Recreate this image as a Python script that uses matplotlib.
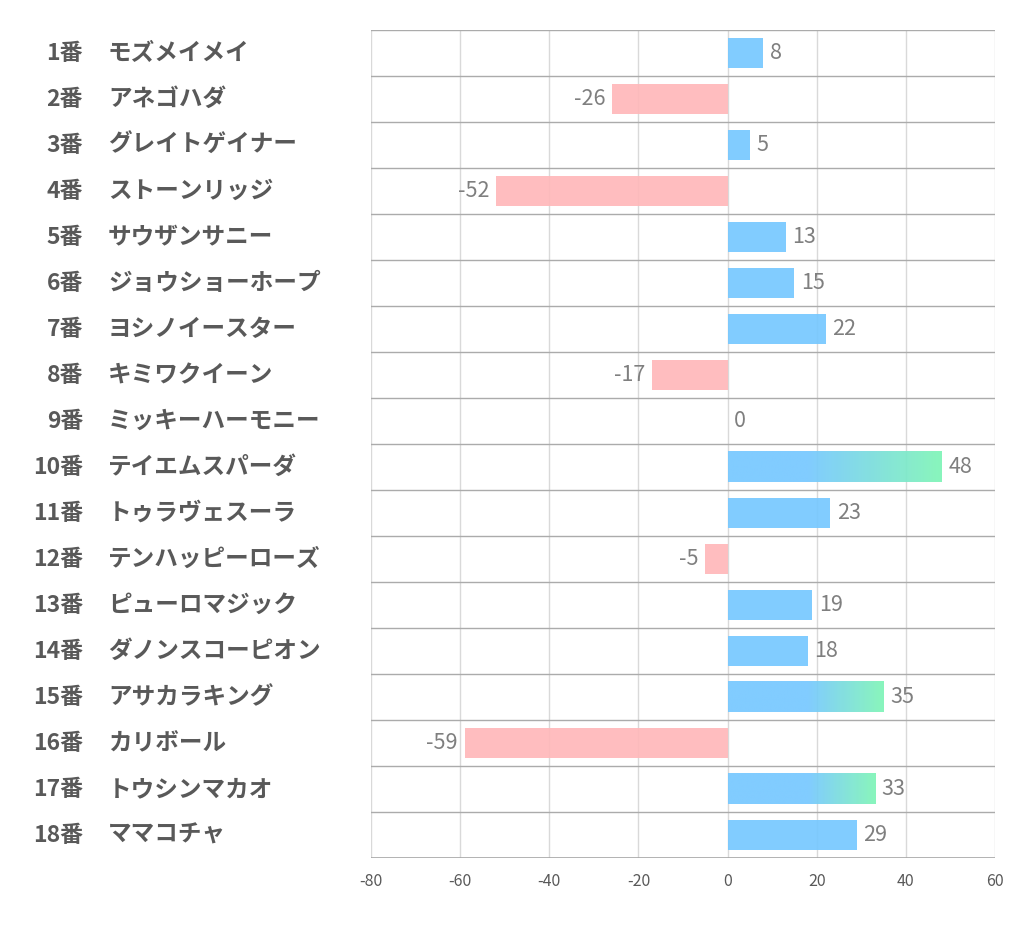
import matplotlib
matplotlib.use("Agg")
import matplotlib.pyplot as plt
import matplotlib.transforms as mtransforms
from matplotlib.colors import LinearSegmentedColormap
import numpy as np

plt.rcParams['font.family'] = ['Noto Sans CJK JP', 'DejaVu Sans']

numbers = [f"{i}番" for i in range(1, 19)]
names = ["モズメイメイ", "アネゴハダ", "グレイトゲイナー", "ストーンリッジ", "サウザンサニー",
         "ジョウショーホープ", "ヨシノイースター", "キミワクイーン", "ミッキーハーモニー",
         "テイエムスパーダ", "トゥラヴェスーラ", "テンハッピーローズ", "ピューロマジック",
         "ダノンスコーピオン", "アサカラキング", "カリボール", "トウシンマカオ", "ママコチャ"]
values = [8, -26, 5, -52, 13, 15, 22, -17, 0, 48, 23, -5, 19, 18, 35, -59, 33, 29]
xticks = [-80, -60, -40, -20, 0, 20, 40, 60]

BLUE = "#76c8ff"
GREEN = "#7ef5b6"
PINK = "#ffb8ba"
GRAD_START = 18
GRAD_THRESHOLD = 30
ALPHA = 0.92

fig = plt.figure(figsize=(10.22, 9.39), dpi=100)
W, H = 1022, 939
ax = fig.add_axes([371 / W, 1 - 858 / H, (995 - 371) / W, (858 - 30) / H])

ax.set_xlim(-80, 60)
ax.set_ylim(len(values) - 0.5, -0.5)

ypos = np.arange(len(values))
bar_h = 0.66
cmap = LinearSegmentedColormap.from_list("bg", [BLUE, GREEN])

for y, v in zip(ypos, values):
    if v > 0:
        if v >= GRAD_THRESHOLD:
            xs = np.linspace(0, v, 512)
            t = np.clip((xs - GRAD_START) / (v - GRAD_START), 0, 1).reshape(1, -1)
            ax.imshow(t, cmap=cmap, vmin=0, vmax=1, aspect='auto', alpha=ALPHA,
                      extent=(0, v, y + bar_h / 2, y - bar_h / 2),
                      zorder=2, interpolation='bilinear')
        else:
            ax.barh(y, v, height=bar_h, color=BLUE, alpha=ALPHA, zorder=2, linewidth=0)
    elif v < 0:
        ax.barh(y, v, height=bar_h, color=PINK, alpha=ALPHA, zorder=2, linewidth=0)
    # value label
    if v >= 0:
        ax.text(v + 1.5, y, f"{v}", va='center', ha='left', fontsize=15.5,
                color='#7f7f7f', zorder=4)
    else:
        ax.text(v - 1.5, y, f"{v}", va='center', ha='right', fontsize=15.5,
                color='#7f7f7f', zorder=4)

ax.set_xlim(-80, 60)
ax.set_ylim(len(values) - 0.5, -0.5)

# grid
for xt in xticks:
    ax.axvline(xt, color='#d9d9d9', linewidth=1, zorder=1)
for k in range(len(values)):
    ax.axhline(k - 0.5, color='#ababab', linewidth=1, zorder=1)

for s in ax.spines.values():
    s.set_visible(False)
ax.axhline(len(values) - 0.5, color='#a6a6a6', linewidth=1.2, zorder=1)

ax.set_xticks(xticks)
ax.set_xticklabels([str(t) for t in xticks], fontsize=11.5, color='#595959')
ax.tick_params(axis='x', length=0, pad=11)
ax.set_yticks([])

trans = mtransforms.blended_transform_factory(fig.transFigure, ax.transData)
for y, num, name in zip(ypos, numbers, names):
    ax.text(83 / W, y, num, transform=trans, ha='right', va='center',
            fontsize=16.5, fontweight='bold', color='#595959')
    ax.text(108 / W, y, name, transform=trans, ha='left', va='center',
            fontsize=17, fontweight='bold', color='#595959')

fig.savefig("out.png", dpi=100, facecolor='white')
